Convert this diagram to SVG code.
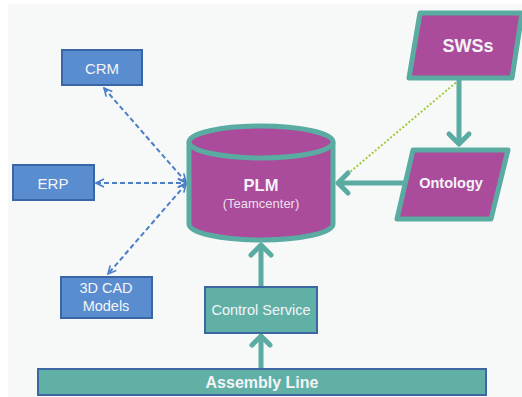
<svg xmlns="http://www.w3.org/2000/svg" width="522" height="397" viewBox="0 0 522 397">
<style>
.bluebox{fill:#5a8dcf;stroke:#3b66a6;stroke-width:2}
.tealbox{fill:#61b0a6;stroke:#3c67a3;stroke-width:2}
.purple{fill:#ab4b9b;stroke:#5aaba1;stroke-width:5;stroke-linejoin:round}
.t{font-family:"Liberation Sans",Arial,sans-serif;fill:#f4f4f8;text-anchor:middle;dominant-baseline:central}
.b{font-weight:bold}
.dash{fill:none;stroke:#4a7ec8;stroke-width:2;stroke-dasharray:5,3}
.teal{fill:none;stroke:#5aaba1;stroke-width:5}
</style>
<defs>
<marker id="ba" viewBox="0 0 10 10" refX="9" refY="5" markerWidth="5" markerHeight="5" orient="auto-start-reverse" markerUnits="strokeWidth">
<path d="M1,1 L9,5 L1,9" fill="none" stroke="#4a7ec8" stroke-width="1.6"/>
</marker>
</defs>
<rect x="0" y="0" width="522" height="397" fill="#ffffff"/>
<rect x="8" y="4" width="514" height="393" fill="#f7f8f8"/>

<g id="connectors">
<line class="dash" x1="104" y1="88" x2="186" y2="182" marker-start="url(#ba)" marker-end="url(#ba)"/>
<line class="dash" x1="96" y1="183" x2="186" y2="183" marker-start="url(#ba)" marker-end="url(#ba)"/>
<line class="dash" x1="186" y1="184" x2="108" y2="274" marker-start="url(#ba)" marker-end="url(#ba)"/>
<line x1="459" y1="80" x2="337" y2="183" stroke="#9ccc3c" stroke-width="2" stroke-dasharray="2,2"/>
<line class="teal" x1="459" y1="80" x2="459" y2="144"/>
<polyline class="teal" points="449,134 459,144 469,134" stroke-linecap="round" stroke-linejoin="round"/>
<line class="teal" x1="404" y1="183" x2="338" y2="183"/>
<polyline class="teal" points="348,173 338,183 348,193" stroke-linecap="round" stroke-linejoin="round"/>
<line class="teal" x1="261" y1="287" x2="261" y2="245"/>
<polyline class="teal" points="251,255 261,245 271,255" stroke-linecap="round" stroke-linejoin="round"/>
<line class="teal" x1="261" y1="369" x2="261" y2="336"/>
<polyline class="teal" points="252,345 261,336 270,345" stroke-linecap="round" stroke-linejoin="round"/>
</g>

<g id="crm">
<rect class="bluebox" x="62" y="50" width="80" height="35"/>
<text class="t" x="102" y="68" font-size="15">CRM</text>
</g>
<g id="erp">
<rect class="bluebox" x="13" y="165" width="81" height="35"/>
<text class="t" x="53" y="183" font-size="15">ERP</text>
</g>
<g id="cad">
<rect class="bluebox" x="61" y="277" width="91" height="41"/>
<text class="t" x="106" y="288" font-size="14.5">3D CAD</text>
<text class="t" x="106" y="306" font-size="14.5">Models</text>
</g>

<g id="plm">
<path class="purple" d="M189,142 L189,224 A72,16 0 0 0 333,224 L333,142"/>
<ellipse class="purple" cx="261" cy="142" rx="72" ry="16"/>
<text class="t b" x="261" y="185" font-size="16.5">PLM</text>
<text class="t" x="261" y="203" font-size="13" fill-opacity="0.9">(Teamcenter)</text>
</g>

<g id="swss">
<polygon class="purple" points="420,13 522,13 512,78 409,78"/>
<text class="t b" x="468" y="46" font-size="18">SWSs</text>
</g>
<g id="ontology">
<polygon class="purple" points="413,150 508,150 491,219 397,219"/>
<text class="t b" x="451" y="183" font-size="14.5">Ontology</text>
</g>

<g id="control">
<rect class="tealbox" x="205" y="287" width="112" height="46"/>
<text class="t" x="261" y="310" font-size="14.5">Control Service</text>
</g>
<g id="assembly">
<rect class="tealbox" x="38" y="369" width="448" height="26"/>
<text class="t b" x="262" y="382" font-size="16">Assembly Line</text>
</g>
</svg>
